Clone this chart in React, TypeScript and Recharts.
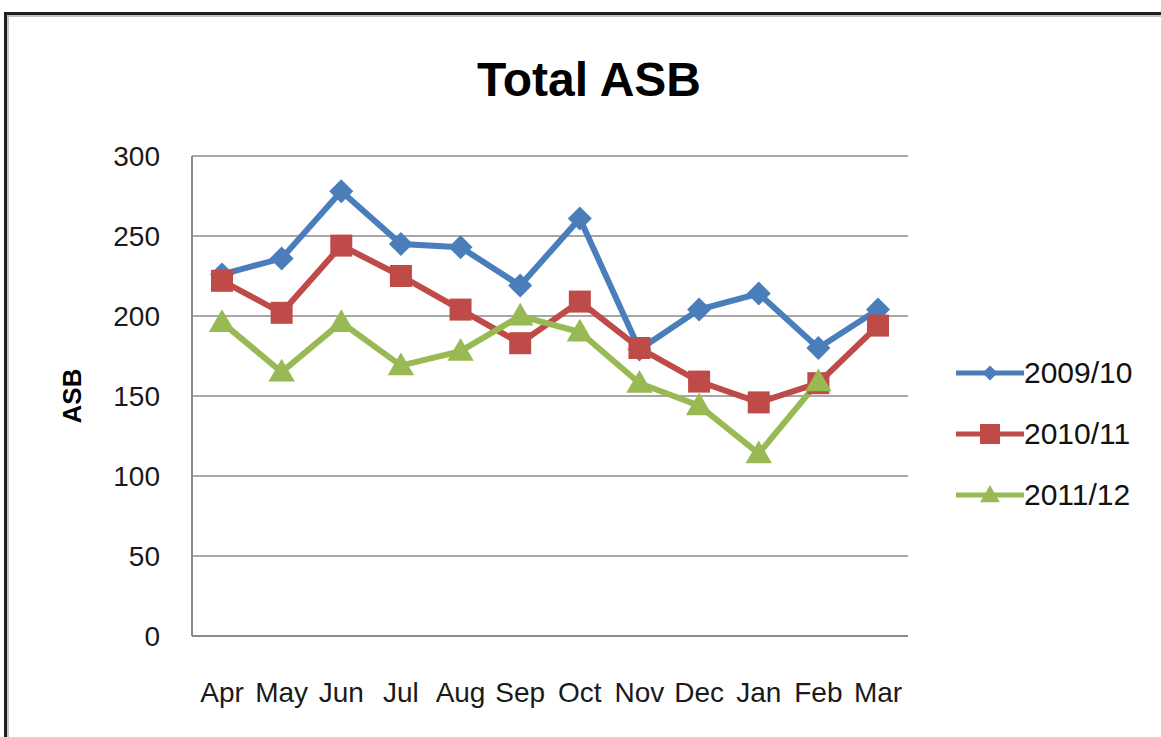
import React from 'react';
import { LineChart, Line, XAxis, YAxis, CartesianGrid, Legend, Label } from 'recharts';

const months = ['Apr', 'May', 'Jun', 'Jul', 'Aug', 'Sep', 'Oct', 'Nov', 'Dec', 'Jan', 'Feb', 'Mar'];
const asb0910 = [226, 236, 278, 245, 243, 219, 261, 179, 204, 214, 180, 204];
const asb1011 = [222, 202, 244, 225, 204, 183, 209, 180, 159, 146, 158, 194];
const asb1112: (number | null)[] = [196, 165, 196, 169, 178, 200, 190, 158, 144, 114, 159, null];
const yTicks = [0, 50, 100, 150, 200, 250, 300];

const seriesNames = ['2009/10', '2010/11', '2011/12'];
const BLUE = '#4A7EBB';
const RED = '#BE4B48';
const GREEN = '#98B954';

const data = months.map((m, i) => ({
  month: m,
  s0910: asb0910[i],
  s1011: asb1011[i],
  s1112: asb1112[i],
}));

const FONT = '"Liberation Sans", Arial, sans-serif';

const Diamond = ({ cx, cy, r, fill }: any) => (
  <polygon points={`${cx},${cy - r} ${cx + r},${cy} ${cx},${cy + r} ${cx - r},${cy}`} fill={fill} />
);
const Square = ({ cx, cy, r, fill }: any) => (
  <rect x={cx - r} y={cy - r} width={2 * r} height={2 * r} fill={fill} />
);
const Triangle = ({ cx, cy, r, fill }: any) => (
  <polygon
    points={`${cx},${cy - r * 1.1} ${cx + r * 1.1},${cy + r * 0.8} ${cx - r * 1.1},${cy + r * 0.8}`}
    fill={fill}
  />
);

const makeDot = (Shape: any, fill: string, r: number) => (p: any) => {
  if (p.cx == null || p.cy == null || p.value == null || p.payload == null) {
    return <g key={`e-${p.index}`} />;
  }
  const v = p.value;
  if (v == null || (Array.isArray(v) && v[1] == null)) return <g key={`e-${p.index}`} />;
  return <Shape key={`d-${p.index}`} cx={p.cx} cy={p.cy} r={r} fill={fill} />;
};

const legendItems = [
  { name: seriesNames[0], color: BLUE, Shape: Diamond, r: 7.5 },
  { name: seriesNames[1], color: RED, Shape: Square, r: 10 },
  { name: seriesNames[2], color: GREEN, Shape: Triangle, r: 9 },
];

const LegendContent = () => (
  <div style={{ fontFamily: FONT }}>
    {legendItems.map((it) => (
      <div key={it.name} style={{ display: 'flex', alignItems: 'center', height: 61 }}>
        <svg width={68} height={30} style={{ display: 'block' }}>
          <line x1={0} y1={15} x2={68} y2={15} stroke={it.color} strokeWidth={5} />
          <it.Shape cx={34} cy={15} r={it.r} fill={it.color} />
        </svg>
        <span style={{ fontSize: 30, color: '#111', lineHeight: '30px' }}>{it.name}</span>
      </div>
    ))}
  </div>
);

export default function App() {
  return (
    <div
      style={{
        position: 'fixed',
        left: 4,
        top: 12,
        width: 1157,
        height: 725,
        overflow: 'hidden',
        background: '#fff',
      }}
    >
      <div
        style={{
          position: 'absolute',
          left: 0,
          top: 0,
          width: 1300,
          height: 900,
          border: '3px solid #1e1e1e',
          boxShadow: 'inset 2px 2px 0 #c4c4c4',
          boxSizing: 'border-box',
        }}
      />
      <div
        style={{
          position: 'absolute',
          left: 285,
          top: 44,
          width: 600,
          textAlign: 'center',
          fontFamily: FONT,
          fontWeight: 'bold',
          fontSize: 48,
          lineHeight: '48px',
          color: '#000',
        }}
      >
        Total ASB
      </div>
      <div style={{ position: 'absolute', left: 0, top: 0 }}>
        <LineChart
          width={1157}
          height={725}
          data={data}
          margin={{ top: 144, right: 53, bottom: 41, left: 0 }}
          style={{ fontFamily: FONT }}
        >
          <CartesianGrid vertical={false} stroke="#8a8a8a" strokeWidth={1.5} />
          <XAxis
            dataKey="month"
            height={60}
            padding={{ left: 30, right: 30 }}
            axisLine={{ stroke: '#8a8a8a', strokeWidth: 2 }}
            tickLine={false}
            tickMargin={40}
            tick={{ fontSize: 28, fill: '#1a1a1a', fontFamily: FONT }}
            interval={0}
          />
          <YAxis
            width={188}
            domain={[0, 300]}
            ticks={yTicks}
            axisLine={{ stroke: '#8a8a8a', strokeWidth: 2 }}
            tickLine={false}
            tickMargin={26}
            tick={{ fontSize: 28, fill: '#1a1a1a', fontFamily: FONT }}
          >
            <Label
              value="ASB"
              angle={-90}
              position="center"
              dx={-26}
              style={{ fontSize: 26, fontWeight: 'bold', fill: '#000', fontFamily: FONT }}
            />
          </YAxis>
          <Legend
            layout="horizontal"
            verticalAlign="middle"
            align="right"
            content={<LegendContent />}
            wrapperStyle={{ left: 952, top: 330, right: 'auto', width: 200 }}
          />
          <Line
            type="linear"
            dataKey="s0910"
            name={seriesNames[0]}
            stroke={BLUE}
            strokeWidth={6}
            dot={makeDot(Diamond, BLUE, 12)}
            isAnimationActive={false}
          />
          <Line
            type="linear"
            dataKey="s1011"
            name={seriesNames[1]}
            stroke={RED}
            strokeWidth={6}
            dot={makeDot(Square, RED, 11)}
            isAnimationActive={false}
          />
          <Line
            type="linear"
            dataKey="s1112"
            name={seriesNames[2]}
            stroke={GREEN}
            strokeWidth={6}
            dot={makeDot(Triangle, GREEN, 12)}
            isAnimationActive={false}
          />
        </LineChart>
      </div>
    </div>
  );
}
